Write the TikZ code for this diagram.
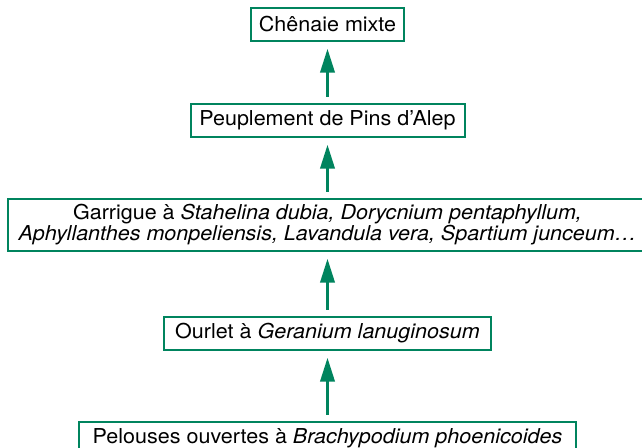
\documentclass[tikz,border=0pt]{standalone}
\usepackage{fontspec}
\setmainfont{TeX Gyre Heros}[FakeStretch=1.05]
\usetikzlibrary{arrows.meta, positioning}
\definecolor{stagegreen}{RGB}{0,132,94}

\begin{document}
\begin{tikzpicture}[
    x=1pt, y=1pt,
    font=\fontsize{20.5}{19}\selectfont,
    stage/.style={rectangle, draw=stagegreen, line width=2pt, fill=white, align=center, inner xsep=8pt, inner ysep=0pt, minimum height=33pt},
    arrow/.style={-{Triangle[length=24pt, width=14pt]}, line width=3.5pt, draw=stagegreen, shorten <=6pt, shorten >=7pt}
]
\useasboundingbox (0,0) rectangle (642,-447);

% Stages of the succession, from bottom to top
\node[stage, minimum width=497pt] (pelouses) at (327.5,-438) {Pelouses ouvertes à \textit{Brachypodium phoenicoides}};
\node[stage, minimum width=327pt, above=70pt of pelouses] (ourlet) {Ourlet à \textit{Geranium lanuginosum}};
\node[stage, minimum width=640pt, minimum height=52pt, above=64pt of ourlet] (garrigue) {Garrigue à \textit{Stahelina dubia, Dorycnium pentaphyllum,}\\\textit{Aphyllanthes monpeliensis, Lavandula vera, Spartium junceum…}};
\node[stage, minimum width=274pt, above=60pt of garrigue] (pins) {Peuplement de Pins d’Alep};
\node[stage, minimum width=148pt, above=61pt of pins] (chenaie) {Chênaie mixte};

% Arrows
\draw[arrow] (pelouses) -- (ourlet);
\draw[arrow] (ourlet) -- (garrigue);
\draw[arrow] (garrigue) -- (pins);
\draw[arrow] (pins) -- (chenaie);

\end{tikzpicture}
\end{document}
